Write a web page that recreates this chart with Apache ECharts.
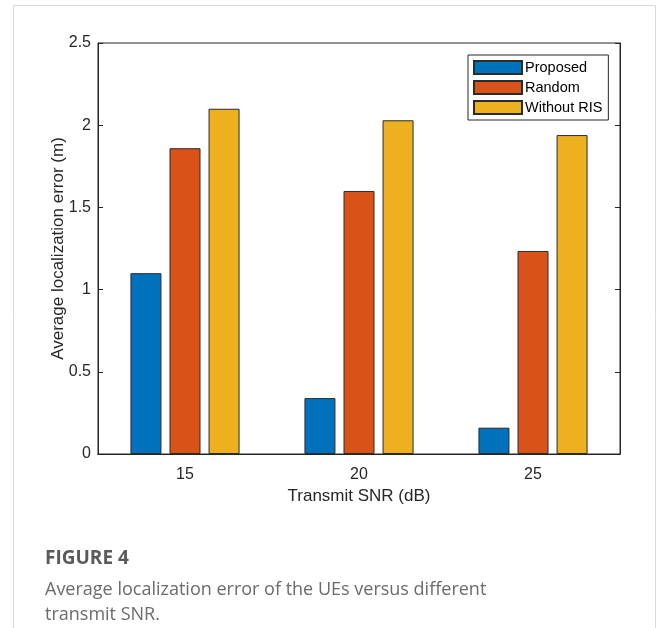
<!DOCTYPE html>
<html>
<head>
<meta charset="utf-8">
<script src="https://cdn.jsdelivr.net/npm/echarts@6/dist/echarts.min.js"></script>
<style>
  html, body { margin: 0; padding: 0; background: #fff; }
  #chart { width: 656px; height: 628px; }
</style>
</head>
<body>
<div id="chart"></div>
<script>
// values
const snrLabels = ["15", "20", "25"];
const proposed = [1.10, 0.34, 0.16];
const randomRis = [1.86, 1.60, 1.235];
const withoutRis = [2.10, 2.03, 1.94];

const seriesNames = ["Proposed", "Random", "Without RIS"];
const colors = ["#0072BD", "#D95319", "#EDB120"];

const chart = echarts.init(document.getElementById("chart"));

const axisFont = { fontFamily: "Liberation Sans, Arial, sans-serif", fontSize: 16, color: "#262626" };

const makeBar = (name, data, color) => ({
  name: name,
  type: "bar",
  data: data,
  barWidth: 31,
  barGap: "26%",
  itemStyle: { color: color, borderColor: "#2b2b2b", borderWidth: 1 },
  xAxisIndex: 0,
  yAxisIndex: 0,
});

const option = {
  animation: false,
  backgroundColor: "#fff",
  grid: {
    left: 98, top: 43, width: 522, height: 411,
    show: true, borderColor: "#262626", borderWidth: 1,
  },
  legend: {
    data: seriesNames,
    orient: "vertical",
    left: 468, top: 55,
    itemWidth: 48, itemHeight: 13, itemGap: 5,
    icon: "rect",
    padding: [5, 6, 5, 5],
    borderColor: "#262626", borderWidth: 1,
    backgroundColor: "#fff",
    textStyle: { fontFamily: "Liberation Sans, Arial, sans-serif", fontSize: 14.5, color: "#000", padding: [0, 0, 0, -2] },
  },
  xAxis: [
    {
      type: "category",
      data: snrLabels,
      position: "bottom",
      name: "Transmit SNR (dB)",
      nameLocation: "middle",
      nameGap: 34,
      nameTextStyle: { fontFamily: "Liberation Sans, Arial, sans-serif", fontSize: 17, color: "#262626" },
      axisLine: { lineStyle: { color: "#262626" } },
      axisTick: { inside: true, alignWithLabel: true, length: 5, lineStyle: { color: "#262626" } },
      axisLabel: Object.assign({ margin: 13 }, axisFont),
    },
    {
      type: "category",
      data: snrLabels,
      position: "top",
      axisLine: { lineStyle: { color: "#262626" } },
      axisTick: { inside: true, alignWithLabel: true, length: 5, lineStyle: { color: "#262626" } },
      axisLabel: { show: false },
    },
  ],
  yAxis: [
    {
      type: "value",
      min: 0, max: 2.5, interval: 0.5,
      name: "Average localization error (m)",
      nameLocation: "middle",
      nameGap: 31,
      nameMoveOverlap: false,
      nameTextStyle: { fontFamily: "Liberation Sans, Arial, sans-serif", fontSize: 17, color: "#262626" },
      axisLine: { show: true, lineStyle: { color: "#262626" } },
      axisTick: { show: true, inside: true, length: 5, lineStyle: { color: "#262626" } },
      axisLabel: Object.assign({ margin: 7 }, axisFont),
      splitLine: { show: false },
    },
    {
      type: "value",
      min: 0, max: 2.5, interval: 0.5,
      position: "right",
      axisLine: { show: true, lineStyle: { color: "#262626" } },
      axisTick: { show: true, inside: true, length: 5, lineStyle: { color: "#262626" } },
      axisLabel: { show: false },
      splitLine: { show: false },
    },
  ],
  series: [
    makeBar(seriesNames[0], proposed, colors[0]),
    makeBar(seriesNames[1], randomRis, colors[1]),
    makeBar(seriesNames[2], withoutRis, colors[2]),
  ],
  graphic: [
    // card frame around the figure
    { type: "polyline", silent: true, shape: { points: [[13.5, 628], [13.5, 5.5], [655.5, 5.5], [655.5, 628]] },
      style: { stroke: "#d9d9d9", lineWidth: 1, fill: null } },
    { type: "text", left: 45, top: 549,
      style: { text: "FIGURE 4", font: "bold 19px 'Open Sans', 'Noto Sans', sans-serif", fill: "#5a5a5a" } },
    { type: "text", left: 45, top: 577,
      style: { text: "Average localization error of the UEs versus different\ntransmit SNR.",
        font: "18px 'Open Sans', 'Noto Sans', sans-serif", lineHeight: 25, fill: "#6b6b6b" } },
  ],
};

chart.setOption(option);
</script>
</body>
</html>
